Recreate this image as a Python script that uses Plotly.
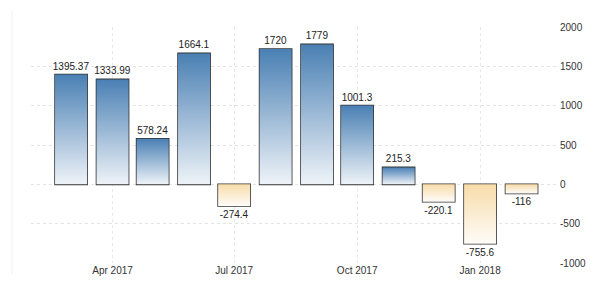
import plotly.graph_objects as go
import pandas as pd

months = ["2017-03-01", "2017-04-01", "2017-05-01", "2017-06-01", "2017-07-01", "2017-08-01",
          "2017-09-01", "2017-10-01", "2017-11-01", "2017-12-01", "2018-01-01", "2018-02-01"]
values = [1395.37, 1333.99, 578.24, 1664.1, -274.4, 1720, 1779, 1001.3, 215.3, -220.1, -755.6, -116]
labels = ["1395.37", "1333.99", "578.24", "1664.1", "-274.4", "1720", "1779", "1001.3", "215.3", "-220.1", "-755.6", "-116"]
ytick_vals = [-1000, -500, 0, 500, 1000, 1500, 2000]
ytick_text = ["-1000", "-500", "0", "500", "1000", "1500", "2000"]
xtick_vals = ["2017-04-01", "2017-07-01", "2017-10-01", "2018-01-01"]
xtick_text = ["Apr 2017", "Jul 2017", "Oct 2017", "Jan 2018"]

half_width = pd.Timedelta(days=12)
bar_width_ms = 24 * 86400000

fig = go.Figure()

# gradient fills
for m, v in zip(months, values):
    c = pd.Timestamp(m)
    x0 = c - half_width
    x1 = c + half_width
    if v >= 0:
        cs = [[0, "#eef3f8"], [1, "#4a80b4"]]
    else:
        cs = [[0, "#fefcf8"], [1, "#f8dcaa"]]
    fig.add_trace(go.Scatter(
        x=[x0, x1, x1, x0, x0], y=[0, 0, v, v, 0],
        mode="lines", line=dict(width=0),
        fill="toself", fillgradient=dict(type="vertical", colorscale=cs),
        hoverinfo="skip", showlegend=False,
    ))

# outlines + labels
fig.add_trace(go.Bar(
    x=months, y=values, width=[bar_width_ms] * len(values),
    marker=dict(color="rgba(0,0,0,0)", line=dict(color="#333333", width=1.6)),
    text=labels, textposition="outside", cliponaxis=False, constraintext="none",
    textfont=dict(family="Liberation Sans, Arial", size=10, color="#222222"),
    showlegend=False,
))

fig.update_layout(
    width=600, height=290,
    margin=dict(l=31, r=41, t=27, b=27),
    paper_bgcolor="white", plot_bgcolor="white",
    font=dict(family="Liberation Sans, Arial", size=10, color="#333333"),
    xaxis=dict(
        type="date", range=["2017-01-30", "2018-03-01"],
        tickvals=xtick_vals, ticktext=xtick_text,
        showgrid=True, gridcolor="#e8e8e8", griddash="dot", gridwidth=1,
        zeroline=False, showline=False, ticks="",
        tickfont=dict(size=10, color="#333333"),
    ),
    yaxis=dict(
        side="right", range=[-1000, 2000],
        tickvals=ytick_vals, ticktext=ytick_text,
        showgrid=True, gridcolor="#e4e4e4", griddash="dot", gridwidth=1,
        zeroline=False, showline=False, ticks="",
        tickfont=dict(size=10, color="#333333"),
    ),
    shapes=[dict(type="line", xref="paper", yref="paper", x0=-0.036, x1=-0.036, y0=-0.05, y1=1.07,
                 line=dict(color="#f2f2f2", width=1))],
)

fig.write_html("out.html")
